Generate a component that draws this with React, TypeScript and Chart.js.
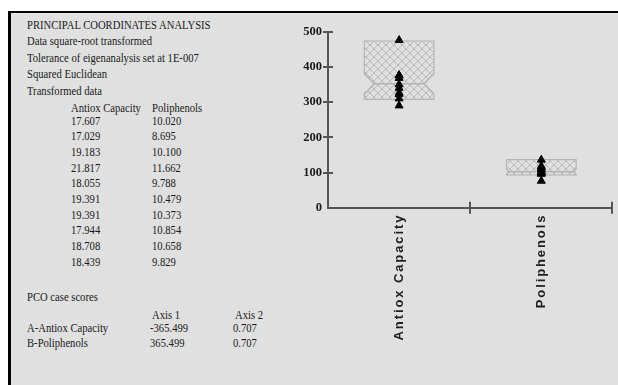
import React, { useEffect, useRef } from "react";
import { Chart, registerables } from "chart.js";

Chart.register(...registerables);

// ---- chart data ----
const categories = ["Antiox Capacity", "Poliphenols"];
const antioxPoints = [310, 290, 368, 476, 326, 376, 376, 322, 350, 340];
const poliphenolPoints = [100, 76, 102, 136, 96, 110, 108, 118, 114, 97];
const boxLow = [306, 91];
const boxHigh = [476, 138];
const notchHigh = [381, 113];
const boxMedian = [352, 102];
const notchLow = [322, 93];
const waistRatio = [0.7, 0.92];
const yMin = 0;
const yMax = 500;
const yStep = 100;

// ---- text panel data ----
const headerLines = [
  "PRINCIPAL COORDINATES ANALYSIS",
  "Data square-root transformed",
  "Tolerance of eigenanalysis set at 1E-007",
  "Squared Euclidean",
  "Transformed data",
];
const tableColumns = ["Antiox Capacity", "Poliphenols"];
const antioxTransformed = ["17.607", "17.029", "19.183", "21.817", "18.055", "19.391", "19.391", "17.944", "18.708", "18.439"];
const poliphenolsTransformed = ["10.020", "8.695", "10.100", "11.662", "9.788", "10.479", "10.373", "10.854", "10.658", "9.829"];
const pcoTitle = "PCO case scores";
const pcoAxes = ["Axis 1", "Axis 2"];
const pcoCases = ["A-Antiox Capacity", "B-Poliphenols"];
const pcoAxis1 = ["-365.499", "365.499"];
const pcoAxis2 = ["0.707", "0.707"];

const BG = "#e0e0e0";
const BOX_LINE = "#b4b4b4";

function makeHatch(): CanvasPattern | string {
  const c = document.createElement("canvas");
  c.width = 8;
  c.height = 8;
  const g = c.getContext("2d");
  if (!g) return BG;
  g.fillStyle = BG;
  g.fillRect(0, 0, 8, 8);
  g.strokeStyle = "#b9b9b9";
  g.lineWidth = 1;
  g.beginPath();
  g.moveTo(0, 0);
  g.lineTo(8, 8);
  g.moveTo(8, 0);
  g.lineTo(0, 8);
  g.stroke();
  const p = g.createPattern(c, "repeat");
  return p || BG;
}

const notchPlugin = {
  id: "notchPlugin",
  afterDatasetDraw(chart: any, args: any) {
    if (args.index !== 0) return;
    const ctx = chart.ctx;
    const ys = chart.scales.y;
    const meta = chart.getDatasetMeta(0);
    meta.data.forEach((el: any, i: number) => {
      const { x, width } = el.getProps(["x", "width"], true);
      const left = x - width / 2;
      const right = x + width / 2;
      const hw = (width / 2) * waistRatio[i];
      const yH = ys.getPixelForValue(notchHigh[i]);
      const yM = ys.getPixelForValue(boxMedian[i]);
      const yL = ys.getPixelForValue(notchLow[i]);
      ctx.save();
      ctx.fillStyle = BG;
      ctx.beginPath();
      ctx.moveTo(left - 1, yH);
      ctx.lineTo(x - hw, yM);
      ctx.lineTo(left - 1, yL);
      ctx.closePath();
      ctx.fill();
      ctx.beginPath();
      ctx.moveTo(right + 1, yH);
      ctx.lineTo(x + hw, yM);
      ctx.lineTo(right + 1, yL);
      ctx.closePath();
      ctx.fill();
      ctx.strokeStyle = BOX_LINE;
      ctx.lineWidth = 1.5;
      ctx.beginPath();
      ctx.moveTo(left + 0.75, yH);
      ctx.lineTo(x - hw, yM);
      ctx.lineTo(left + 0.75, yL);
      ctx.moveTo(right - 0.75, yH);
      ctx.lineTo(x + hw, yM);
      ctx.lineTo(right - 0.75, yL);
      ctx.moveTo(x - hw, yM);
      ctx.lineTo(x + hw, yM);
      ctx.stroke();
      ctx.restore();
    });
  },
};

const axisMarksPlugin = {
  id: "axisMarks",
  afterDraw(chart: any) {
    const ctx = chart.ctx;
    const xs = chart.scales.x;
    const ys = chart.scales.y;
    const area = chart.chartArea;
    ctx.save();
    ctx.strokeStyle = "#555";
    ctx.lineWidth = 2;
    ctx.beginPath();
    ys.ticks.forEach((t: any) => {
      if (t.value === yMin) return;
      const py = Math.round(ys.getPixelForValue(t.value));
      ctx.moveTo(area.left - 5, py);
      ctx.lineTo(area.left + 5, py);
    });
    categories.forEach((_, i) => {
      const px = Math.round(xs.getPixelForValue(i + 0.5));
      ctx.moveTo(px, area.bottom - 6);
      ctx.lineTo(px, area.bottom + 6);
    });
    ctx.stroke();
    // rotated category labels
    ctx.fillStyle = "#1e1e1e";
    ctx.font = "bold 13px 'Liberation Sans', Arial, sans-serif";
    (ctx as any).letterSpacing = "1.9px";
    ctx.textAlign = "right";
    ctx.textBaseline = "middle";
    categories.forEach((label, i) => {
      const px = xs.getPixelForValue(i);
      ctx.save();
      ctx.translate(px, area.bottom + 6);
      ctx.rotate(-Math.PI / 2);
      ctx.fillText(label, 0, 0);
      ctx.restore();
    });
    ctx.restore();
  },
};

function TextLine({ text, left, center }: { text: string; left: number; center: number }) {
  return (
    <div
      style={{
        position: "absolute",
        left,
        top: center - 8.5,
        fontFamily: "'Liberation Serif', 'Times New Roman', serif",
        fontSize: 12.5,
        lineHeight: "16px",
        color: "#1a1a1a",
        whiteSpace: "nowrap",
        transform: "scaleX(0.85)",
        transformOrigin: "left center",
      }}
    >
      {text}
    </div>
  );
}

export default function App() {
  const canvasRef = useRef<HTMLCanvasElement | null>(null);

  useEffect(() => {
    const canvas = canvasRef.current;
    if (!canvas) return;
    const hatch = makeHatch();
    const pointData = [
      ...antioxPoints.map((v) => ({ x: categories[0], y: v })),
      ...poliphenolPoints.map((v) => ({ x: categories[1], y: v })),
    ];
    const chart = new Chart(canvas, {
      type: "bar",
      data: {
        labels: categories,
        datasets: [
          {
            type: "bar",
            label: "box",
            data: categories.map((_, i) => [boxLow[i], boxHigh[i]]) as any,
            backgroundColor: hatch as any,
            borderColor: BOX_LINE,
            borderWidth: 1.5,
            borderSkipped: false,
            barPercentage: 0.5,
            categoryPercentage: 1,
            order: 1,
          },
          {
            type: "scatter",
            label: "points",
            data: pointData as any,
            pointStyle: "triangle",
            radius: 4.6,
            backgroundColor: "#000",
            borderColor: "#000",
            borderWidth: 1,
            order: 0,
          } as any,
        ],
      },
      options: {
        responsive: false,
        animation: false,
        devicePixelRatio: 1,
        layout: { padding: { top: 18.7, right: 4, bottom: 177.3, left: 0 } },
        plugins: { legend: { display: false }, tooltip: { enabled: false } },
        scales: {
          x: {
            type: "category",
            offset: true,
            grid: { display: false, drawTicks: false },
            border: { display: true, color: "#555", width: 2 },
            ticks: { display: false },
            afterFit: (s: any) => {
              s.height = 0;
            },
          },
          y: {
            type: "linear",
            min: yMin,
            max: yMax,
            grid: { display: false, drawTicks: false },
            border: { display: true, color: "#555", width: 2 },
            ticks: {
              stepSize: yStep,
              padding: 6,
              color: "#1a1a1a",
              font: { family: "'Liberation Serif', 'Times New Roman', serif", size: 12.5, weight: "bold" },
            },
            afterFit: (s: any) => {
              s.width = 38;
            },
          },
        },
      },
      plugins: [notchPlugin, axisMarksPlugin],
    });
    return () => chart.destroy();
  }, []);

  const headerStep = 16.6;
  const rowStep = 15.67;

  return (
    <div style={{ position: "fixed", inset: 0, background: "#fff" }}>
      <div
        style={{
          position: "absolute",
          left: 8,
          top: 11,
          right: 0,
          bottom: 0,
          background: BG,
          borderLeft: "3px solid #000",
          borderTop: "2px solid #000",
          boxSizing: "border-box",
        }}
      />
      {headerLines.map((t, i) => (
        <TextLine key={"h" + i} text={t} left={26.7} center={25 + i * headerStep} />
      ))}
      <TextLine text={tableColumns[0]} left={70.7} center={108} />
      <TextLine text={tableColumns[1]} left={151.7} center={108} />
      {antioxTransformed.map((t, i) => (
        <TextLine key={"a" + i} text={t} left={71} center={121 + i * rowStep} />
      ))}
      {poliphenolsTransformed.map((t, i) => (
        <TextLine key={"p" + i} text={t} left={151.7} center={121 + i * rowStep} />
      ))}
      <TextLine text={pcoTitle} left={26.7} center={297} />
      <TextLine text={pcoAxes[0]} left={151.7} center={315} />
      <TextLine text={pcoAxes[1]} left={235} center={315} />
      {pcoCases.map((t, i) => (
        <React.Fragment key={"c" + i}>
          <TextLine text={t} left={26.7} center={328 + i * 15.5} />
          <TextLine text={pcoAxis1[i]} left={150} center={328 + i * 15.5} />
          <TextLine text={pcoAxis2[i]} left={233.3} center={328 + i * 15.5} />
        </React.Fragment>
      ))}
      <canvas
        ref={canvasRef}
        width={328}
        height={372}
        style={{ position: "absolute", left: 290, top: 13, width: 328, height: 372 }}
      />
    </div>
  );
}
